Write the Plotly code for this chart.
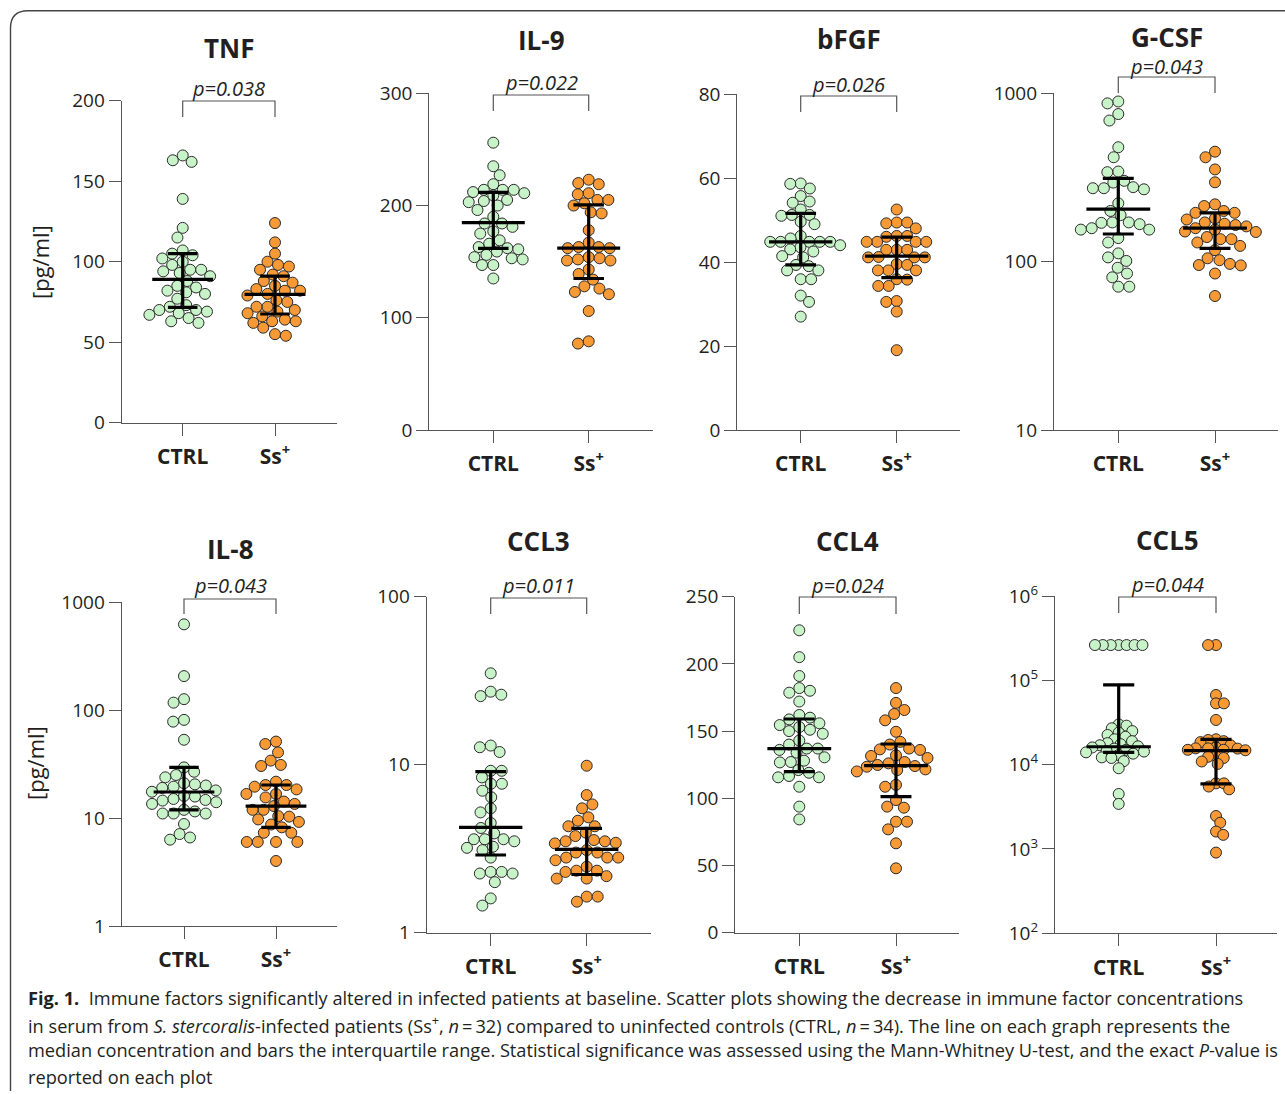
import numpy as np
import plotly.graph_objects as go

W, H = 1285, 1094

# ---------------- data ----------------
panel_names = ["TNF", "IL-9", "bFGF", "G-CSF", "IL-8", "CCL3", "CCL4", "CCL5"]
p_labels = ["p=0.038", "p=0.022", "p=0.026", "p=0.043", "p=0.043", "p=0.011", "p=0.024", "p=0.044"]
groups = ["CTRL", "Ss+"]
group_ticktext = ["<b>CTRL</b>", "<b>Ss<sup>+</sup></b>"]

tnf_ctrl = [166, 163, 162, 139, 121, 115, 107, 105, 104, 102, 100, 98, 95, 95, 94, 93, 91, 88,
            85, 84, 82, 81, 80, 77, 73, 72, 70, 70, 69, 68, 67, 65, 63, 62]
tnf_ss = [124, 112, 105, 100, 98, 97, 95, 92, 91, 88, 87, 85, 83, 82, 82, 80, 79, 76, 75,
          72, 72, 70, 69, 68, 66, 64, 63, 63, 62, 59, 55, 54]

il9_ctrl = [256, 235, 227, 219, 214, 214, 214, 212, 211, 209, 205, 204, 203, 200, 196, 190, 184, 184,
            181, 177, 175, 169, 166, 163, 162, 161, 159, 156, 154, 153, 152, 147, 147, 135]
il9_ss = [223, 220, 219, 211, 210, 205, 205, 202, 200, 194, 193, 178, 167, 163, 163, 162, 162,
          154, 153, 152, 151, 151, 143, 139, 134, 128, 126, 123, 121, 106, 79, 77]

bfgf_ctrl = [58.7, 58.6, 57.5, 55.7, 54.4, 54.1, 52.5, 51.2, 51.2, 51, 49.6, 49, 46.2, 45.6, 44.8,
             44.8, 44.8, 44.8, 44.8, 44.0, 43.5, 43, 42.5, 41.4, 41.1, 39.3, 39, 38, 38, 35.9,
             35.9, 32, 30.5, 27]
bfgf_ss = [52.5, 49.4, 49.4, 49.2, 48, 46.2, 46.2, 46, 44.8, 44.8, 44.8, 44.8, 42.9, 42.9, 42.9,
           41.1, 41.1, 41.1, 41.2, 39.5, 39.3, 38, 38, 38, 35.9, 35.8, 34.3, 34.3, 30.7, 30.5,
           28.2, 19]

gcsf_ctrl = [894, 871, 753, 689, 478, 417, 343, 340, 302, 295, 277, 273, 273, 269, 222, 200, 189,
             171, 171, 170, 167, 158, 155, 155, 138, 130, 112, 106, 101, 92, 85, 80.7, 71, 71]
gcsf_ss = [450, 417, 353, 296, 219, 214, 200, 195, 195, 181, 178, 171, 168, 165, 162, 158, 155,
           151, 150, 140, 136, 136, 130, 124, 117, 104.7, 102, 97, 95.5, 95, 85, 62.5]

il8_ctrl = [621, 206, 126, 117, 81, 78, 53, 29.4, 26.8, 25, 23.8, 21, 20.5, 20, 19.5, 19, 18, 17.5,
            16, 15.8, 15, 14.7, 14.5, 14, 13.5, 11.9, 11.5, 11, 11, 11, 8.8, 7.1, 6.6, 6.3]
il8_ss = [51, 48.4, 40.5, 34, 31, 30.3, 21.7, 20.2, 20.2, 19.5, 18.4, 16.7, 16.7, 15.5, 14.2, 13.5,
          12.9, 11.9, 11.9, 10.4, 10.3, 9.7, 9.2, 8.7, 8.2, 7.3, 7.3, 6, 6, 6, 6, 4.0]

ccl3_ctrl = [35, 27.2, 26.1, 25.6, 13, 12.7, 11.9, 9.2, 9.2, 8.4, 7.7, 7.7, 7, 6.4, 5.5, 5.2, 4.5,
             4.2, 3.9, 3.6, 3.6, 3.6, 3.5, 3.25, 3.2, 3.1, 2.8, 2.3, 2.3, 2.25, 2.25, 2.0, 1.6, 1.45]
ccl3_ss = [9.86, 6.6, 5.8, 5.5, 4.86, 4.64, 4.3, 4.3, 3.94, 3.76, 3.56, 3.5, 3.5, 3.43, 3.4, 3.1,
           3.0, 3.0, 2.8, 2.8, 2.8, 2.7, 2.47, 2.34, 2.34, 2.3, 2.17, 2.1, 2.1, 1.64, 1.64, 1.53]

ccl4_ctrl = [225, 205, 191, 182, 180, 178.6, 172, 162, 160, 158.7, 155.8, 154.5, 153, 151, 150, 148,
             143, 140, 137, 137, 136, 134, 130.5, 128, 127, 126.7, 121, 119, 116.6, 115.6, 115.6,
             108.6, 93.8, 84.3]
ccl4_ss = [182, 171, 165.7, 162.7, 158, 149.5, 142, 140, 137, 136.4, 136, 132, 131.5, 130, 127, 126,
           124.8, 124, 123.5, 121.5, 121, 120, 110, 108.6, 98.7, 93.8, 93, 82.6, 82.6, 76.9, 66.5, 47.9]

ccl5_ctrl = [262000] * 7 + [30000, 29000, 27000, 25000, 24000, 22500, 21400, 20000, 19000, 18000,
                            17500, 17000, 16500, 16000, 15500, 15000, 14500, 14300, 14000, 13500,
                            13000, 12200, 12000, 11000, 9060, 4490, 3420]
ccl5_ss = [262000, 262000, 67000, 53300, 53300, 33900, 20000, 19600, 19000, 18500, 17000, 16000,
           15600, 15600, 15500, 15000, 15000, 14800, 12600, 12400, 12000, 10900, 10200, 6000, 6000,
           5500, 5100, 2460, 2050, 1610, 1470, 906]

ctrl_values = [tnf_ctrl, il9_ctrl, bfgf_ctrl, gcsf_ctrl, il8_ctrl, ccl3_ctrl, ccl4_ctrl, ccl5_ctrl]
ss_values = [tnf_ss, il9_ss, bfgf_ss, gcsf_ss, il8_ss, ccl3_ss, ccl4_ss, ccl5_ss]

# median, Q1, Q3 per group
ctrl_median = [89, 184.7, 44.8, 205, 17.4, 4.24, 137, 16300]
ctrl_q1 = [71.6, 161.9, 39.3, 146, 11.9, 2.9, 119.8, 14000]
ctrl_q3 = [105, 211.8, 51.6, 312, 29.4, 9.1, 159, 88100]
ss_median = [79.7, 162, 41.4, 158, 12.9, 3.13, 124.3, 14700]
ss_q1 = [67.5, 135, 36.3, 120, 8.2, 2.22, 101.2, 5900]
ss_q3 = [91, 200.5, 45.9, 195, 20.2, 4.18, 140.4, 19950]

y_ranges = [(0, 200), (0, 300), (0, 80), (10, 1000), (1, 1000), (1, 100), (0, 250), (100, 1e6)]
y_is_log = [False, False, False, True, True, True, False, True]
y_tickvals = [[0, 50, 100, 150, 200], [0, 100, 200, 300], [0, 20, 40, 60, 80], [10, 100, 1000],
              [1, 10, 100, 1000], [1, 10, 100], [0, 50, 100, 150, 200, 250],
              [1e2, 1e3, 1e4, 1e5, 1e6]]
y_ticktext = [["0", "50", "100", "150", "200"], ["0", "100", "200", "300"],
              ["0", "20", "40", "60", "80"], ["10", "100", "1000"],
              ["1", "10", "100", "1000"], ["1", "10", "100"],
              ["0", "50", "100", "150", "200", "250"],
              ["10<sup>2</sup>", "10<sup>3</sup>", "10<sup>4</sup>", "10<sup>5</sup>", "10<sup>6</sup>"]]

# ---------------- layout geometry (pixels) ----------------
geom = [
    dict(l=121.7, r=336.7, t=100.7, b=422.7, c0=182.7, c1=275.0, ty=48, py=88, bt=101, bb=117),
    dict(l=429.3, r=653.0, t=93.3, b=430.0, c0=493.3, c1=588.7, ty=40, py=82, bt=95, bb=111),
    dict(l=737.3, r=960.0, t=94.0, b=430.0, c0=800.7, c1=896.7, ty=39, py=85, bt=96, bb=112),
    dict(l=1054.0, r=1277.7, t=93.3, b=430.0, c0=1118.3, c1=1215.0, ty=37, py=67, bt=77, bb=93),
    dict(l=121.7, r=337.3, t=602.0, b=926.0, c0=184.0, c1=276.0, ty=549, py=585, bt=599, bb=614),
    dict(l=426.7, r=651.0, t=596.7, b=932.7, c0=490.7, c1=586.7, ty=541, py=585, bt=598, bb=614),
    dict(l=735.3, r=959.3, t=596.7, b=932.7, c0=799.3, c1=896.0, ty=541, py=585, bt=597, bb=614),
    dict(l=1055.0, r=1277.0, t=596.0, b=933.3, c0=1118.7, c1=1216.0, ty=540, py=584, bt=597, bb=613),
]
swarm_spacing = [1.0, 1.0, 0.95, 1.0, 1.0, 1.0, 1.0, 0.72]

GREEN = "#c8f2c8"
ORANGE = "#f79a36"
EDGE = "#2a2a2a"
AXC = "#555555"
TXT = "#231f20"
FONT = "Open Sans"
DOT = 11


def swarm_offsets(ypx, d):
    order = np.argsort(ypx)
    placed = []
    xs = np.zeros(len(ypx))
    for k, i in enumerate(order):
        y = ypx[i]
        cands = [0.0]
        for (qx, qy) in placed:
            dy = abs(qy - y)
            if dy < d:
                dx = np.sqrt(d * d - dy * dy)
                cands += [qx - dx, qx + dx]
        cands.sort(key=lambda c: (round(abs(c), 3), c if k % 2 else -c))
        for c in cands:
            if all((c - qx) ** 2 + (y - qy) ** 2 >= d * d - 1e-6 for qx, qy in placed):
                xs[i] = c
                break
        placed.append((xs[i], y))
    return xs


fig = go.Figure()
layout = dict(width=W, height=H, margin=dict(l=0, r=0, t=0, b=0, pad=0, autoexpand=False),
              paper_bgcolor="white", plot_bgcolor="white", showlegend=False)
shapes = []
annotations = []


def px2x(px):
    return px / W


def px2y(py):
    return 1 - py / H


for i in range(8):
    g = geom[i]
    sfx = "" if i == 0 else str(i + 1)
    xa, ya = "x" + sfx, "y" + sfx
    s = g["c1"] - g["c0"]
    xr = [(g["l"] - g["c0"]) / s, (g["r"] - g["c0"]) / s]
    lo, hi = y_ranges[i]
    if y_is_log[i]:
        yr = [np.log10(lo), np.log10(hi)]
    else:
        yr = [lo, hi]

    def ypix(v):
        vv = np.log10(v) if y_is_log[i] else v
        return g["b"] - (vv - yr[0]) / (yr[1] - yr[0]) * (g["b"] - g["t"])

    for gi, (vals, col) in enumerate([(ctrl_values[i], GREEN), (ss_values[i], ORANGE)]):
        vals = np.array(vals, dtype=float)
        yp = np.array([ypix(v) for v in vals])
        off = swarm_offsets(yp, DOT * swarm_spacing[i])
        fig.add_trace(go.Scatter(
            x=gi + off / s, y=vals, mode="markers", xaxis=xa, yaxis=ya,
            marker=dict(size=DOT, color=col, line=dict(color=EDGE, width=1)),
            hoverinfo="y", cliponaxis=False))

    for gi, (med, q1, q3) in enumerate([(ctrl_median[i], ctrl_q1[i], ctrl_q3[i]),
                                         (ss_median[i], ss_q1[i], ss_q3[i])]):
        mw, cw = 0.33, 0.16
        fig.add_trace(go.Scatter(
            x=[gi - mw, gi + mw, None, gi - cw, gi + cw, None, gi - cw, gi + cw, None, gi, gi],
            y=[med, med, None, q3, q3, None, q1, q1, None, q1, q3],
            mode="lines", xaxis=xa, yaxis=ya, line=dict(color="black", width=3.2),
            hoverinfo="skip"))

    layout["xaxis" + sfx] = dict(
        domain=[px2x(g["l"]), px2x(g["r"])], range=xr, anchor=ya,
        tickvals=[0, 1], ticktext=group_ticktext, ticks="outside", ticklen=12,
        tickwidth=1.2, tickcolor=AXC, showline=True, linecolor=AXC, linewidth=1.2,
        showgrid=False, zeroline=False, ticklabelstandoff=3, automargin=False,
        tickfont=dict(family=FONT, size=21, color=TXT), fixedrange=True)
    layout["yaxis" + sfx] = dict(
        domain=[px2y(g["b"]), px2y(g["t"])], range=yr, anchor=xa,
        type="log" if y_is_log[i] else "linear",
        tickvals=y_tickvals[i], ticktext=y_ticktext[i], ticks="outside", ticklen=12,
        tickwidth=1.2, tickcolor=AXC, showline=True, linecolor=AXC, linewidth=1.2,
        showgrid=False, zeroline=False, automargin=False,
        tickfont=dict(family=FONT, size=19, color=TXT), fixedrange=True)

    xm = (g["c0"] + g["c1"]) / 2
    annotations.append(dict(text="<b>%s</b>" % panel_names[i], x=px2x(xm), y=px2y(g["ty"]),
                            xref="paper", yref="paper", showarrow=False, xanchor="center",
                            yanchor="middle", font=dict(family=FONT, size=26, color=TXT)))
    annotations.append(dict(text="<i>%s</i>" % p_labels[i], x=px2x(xm), y=px2y(g["py"]),
                            xref="paper", yref="paper", showarrow=False, xanchor="center",
                            yanchor="middle", font=dict(family=FONT, size=20, color=TXT)))
    shapes.append(dict(type="path", xref="paper", yref="paper",
                       path="M %f,%f L %f,%f L %f,%f L %f,%f" % (
                           px2x(g["c0"]), px2y(g["bb"]), px2x(g["c0"]), px2y(g["bt"]),
                           px2x(g["c1"]), px2y(g["bt"]), px2x(g["c1"]), px2y(g["bb"])),
                       line=dict(color=AXC, width=1.2)))

for (xp, yp) in [(40, 262), (35, 763)]:
    annotations.append(dict(text="[pg/ml]", x=px2x(xp), y=px2y(yp), xref="paper", yref="paper",
                            showarrow=False, textangle=-90, xanchor="center", yanchor="middle",
                            font=dict(family=FONT, size=22, color=TXT)))

caption_lines = [
    "<b>Fig. 1.</b>  Immune factors significantly altered in infected patients at baseline. "
    "Scatter plots showing the decrease in immune factor concentrations",
    "in serum from <i>S. stercoralis</i>-infected patients (Ss<sup>+</sup>, <i>n</i>\u2009=\u200932) "
    "compared to uninfected controls (CTRL, <i>n</i>\u2009=\u200934). The line on each graph represents the",
    "median concentration and bars the interquartile range. Statistical significance was assessed "
    "using the Mann-Whitney U-test, and the exact <i>P</i>-value is",
    "reported on each plot",
]
for k, (line, yp) in enumerate(zip(caption_lines, [998, 1024, 1050, 1077])):
    annotations.append(dict(text=line, x=px2x(26), y=px2y(yp), xref="paper", yref="paper",
                            showarrow=False, xanchor="left", yanchor="middle",
                            font=dict(family=FONT, size=18.2, color=TXT)))

shapes.append(dict(type="path", xref="paper", yref="paper",
                   path="M %f,%f L %f,%f Q %f,%f %f,%f L %f,%f" % (
                       px2x(10.5), px2y(1091), px2x(10.5), px2y(28),
                       px2x(10.5), px2y(10.7), px2x(28), px2y(10.7), 1.0, px2y(10.7)),
                   line=dict(color="#444444", width=1.4)))

layout["shapes"] = shapes
layout["annotations"] = annotations
fig.update_layout(**layout)
fig.write_html("out.html")
